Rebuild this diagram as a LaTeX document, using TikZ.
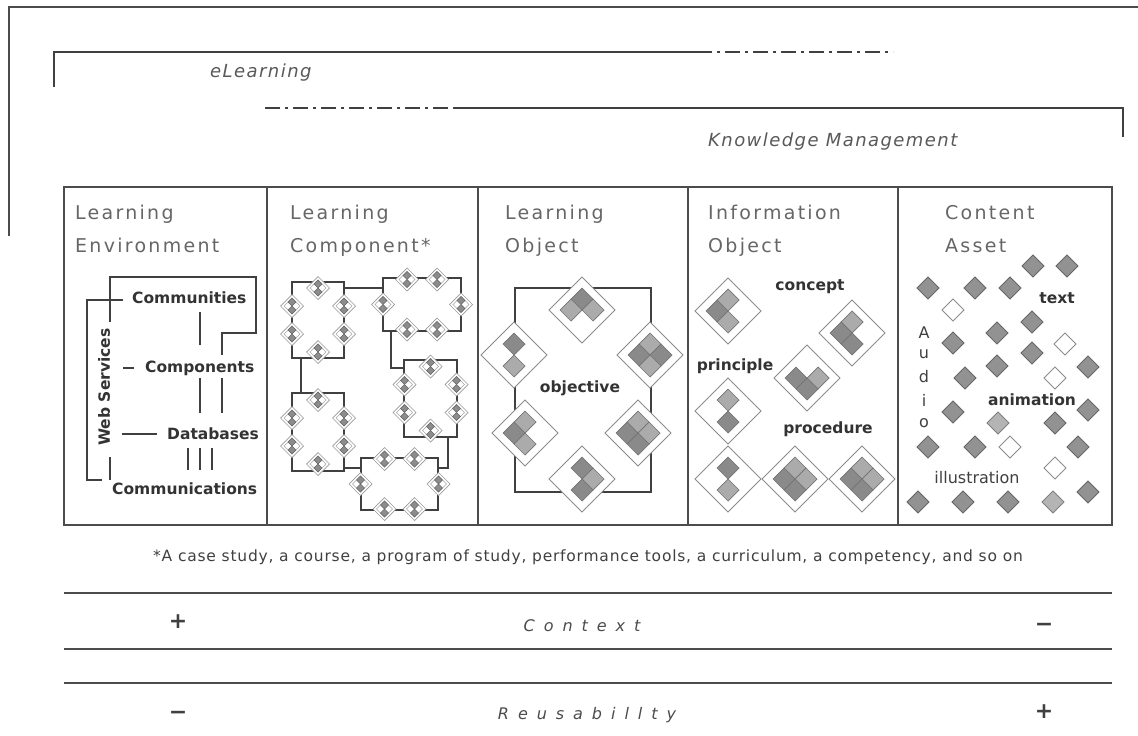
\documentclass[tikz,border=0pt]{standalone}
\usepackage{fontspec}
\setmainfont{DejaVu Sans}
\newfontfamily\titlefont[LetterSpace=12]{DejaVu Sans}
\newfontfamily\slfont[LetterSpace=8]{DejaVu Sans}
\newfontfamily\widefont[LetterSpace=56]{DejaVu Sans}
\newfontfamily\footfont[LetterSpace=5]{DejaVu Sans}
\definecolor{tA}{HTML}{8A8A8A}
\definecolor{tB}{HTML}{ABABAB}
\definecolor{caG}{HTML}{929292}
\definecolor{caL}{HTML}{B4B4B4}
\newcommand{\dmd}[4][]{\path[#1] ({#2-(#4)},{#3}) -- ({#2},{#3-(#4)}) -- ({#2+(#4)},{#3}) -- ({#2},{#3+(#4)}) -- cycle;}
\newcommand{\locluster}[3]{%
  \dmd[outerd]{#1}{#2}{33}%
  \foreach \dx/\dy/\tc in {#3}{\dmd[tile,fill=\tc]{#1+\dx}{#2+\dy}{11}}%
}
\newcommand{\lcmini}[2]{%
  \dmd[minio]{#1}{#2}{11.5}%
  \dmd[minii]{#1}{#2}{8}%
  \dmd[mtile]{#1}{#2-4}{4}%
  \dmd[mtile]{#1}{#2+4}{4}%
}
\newcommand{\lctall}[2]{%
  \lcmini{#1}{#2-32}\lcmini{#1-26}{#2-14}\lcmini{#1-26}{#2+14}%
  \lcmini{#1+26}{#2-14}\lcmini{#1+26}{#2+14}\lcmini{#1}{#2+32}%
}
\newcommand{\lcwide}[2]{%
  \lcmini{#1-15}{#2-25}\lcmini{#1+15}{#2-25}\lcmini{#1-39}{#2}%
  \lcmini{#1+39}{#2}\lcmini{#1-15}{#2+25}\lcmini{#1+15}{#2+25}%
}
\tikzset{
  frame/.style={draw=black!70, line width=1.4pt},
  ln/.style={draw=black!75, line width=1.2pt},
  dashdot/.style={draw=black!75, line width=1.2pt, dash pattern=on 15pt off 5pt on 3pt off 5pt},
  title/.style={font=\titlefont\fontsize{19}{23}\selectfont, text=black!60, anchor=base west, inner sep=0pt},
  brk/.style={font=\slfont\itshape\fontsize{18}{22}\selectfont, text=black!65, anchor=west, inner sep=0pt},
  lbl/.style={font=\bfseries\fontsize{15.5}{18}\selectfont, text=black!80, inner sep=0pt},
  reg/.style={font=\fontsize{16}{18}\selectfont, text=black!75, inner sep=0pt},
  sign/.style={font=\bfseries\fontsize{22}{24}\selectfont, text=black!75, inner sep=0pt},
  axis/.style={font=\widefont\itshape\fontsize{16}{18}\selectfont, text=black!70, inner sep=0pt},
  lcbox/.style={draw=black!75, line width=1.2pt, fill=white, inner sep=0pt},
  outerd/.style={draw=black!45, fill=white, line width=0.9pt},
  tile/.style={draw=black!55, line width=0.7pt},
  minio/.style={draw=black!40, fill=white, line width=0.7pt},
  minii/.style={draw=black!35, line width=0.6pt},
  mtile/.style={draw=black!60, fill=black!45, line width=0.5pt},
  ca/.style={draw=black!60, fill=caG, line width=0.8pt},
  cal/.style={draw=black!50, fill=caL, line width=0.8pt},
  caw/.style={draw=black!45, fill=white, line width=0.8pt},
}
\begin{document}
\begin{tikzpicture}[x=1pt,y=-1pt]
\useasboundingbox (0,0) rectangle (1138,736);
\fill[white] (0,0) rectangle (1138,736);

% outer frame and brackets
\draw[frame] (9,236) -- (9,7) -- (1138,7);
\draw[ln] (54,87) -- (54,52) -- (697,52);
\draw[dashdot] (697,52) -- (893,52);
\node[brk] (el) at (210,73) {eLearning};
\draw[dashdot] (265,108) -- (454,108);
\draw[ln] (454,108) -- (1123,108) -- (1123,137);
\node[brk] (km) at (708,142) {Knowledge Management};

% main box
\draw[frame] (64,187) rectangle (1112,525);
\foreach \xx in {267,478,688,898} \draw[frame] (\xx,187) -- (\xx,525);

% titles
\node[title] (t1a) at (75,219) {Learning};
\node[title] (t1b) at (75,252) {Environment};
\node[title] (t2a) at (290,219) {Learning};
\node[title] (t2b) at (290,252) {Component*};
\node[title] (t3a) at (505,219) {Learning};
\node[title] (t3b) at (505,252) {Object};
\node[title] (t4a) at (708,219) {Information};
\node[title] (t4b) at (708,252) {Object};
\node[title] (t5a) at (945,219) {Content};
\node[title] (t5b) at (945,252) {Asset};

% ---------- Learning Environment ----------
\node[lbl, anchor=west] (comm) at (132,298) {Communities};
\node[lbl, anchor=west] (comp) at (145,368) {Components};
\node[lbl, anchor=west] (db) at (167,434) {Databases};
\node[lbl, anchor=west] (cmn) at (112,489) {Communications};
\node[lbl, rotate=90] (ws) at (104,387) {Web Services};
\draw[ln] (110,322) -- (110,277) -- (256,277) -- (256,333) -- (222,333) -- (222,355);
\draw[ln] (222,378) -- (222,413);
\draw[ln] (comm.west) ++(-9,2) -- (87,300) -- (87,480) -- (102,480);
\draw[ln] (110,457) -- (110,480);
\draw[ln] (123,368) -- (134,368);
\draw[ln] (122,434) -- (157,434);
\draw[ln] (200,312) -- (200,345);
\draw[ln] (200,378) -- (200,413);
\foreach \xx in {188,200,212} \draw[ln] (\xx,448) -- (\xx,470);

% ---------- Learning Component ----------
\node[lcbox, minimum width=52pt, minimum height=76pt] (A) at (318,320) {};
\node[lcbox, minimum width=78pt, minimum height=53pt] (B) at (422,304.5) {};
\node[lcbox, minimum width=52pt, minimum height=78pt] (C) at (318,432) {};
\node[lcbox, minimum width=53pt, minimum height=77pt] (D) at (430.5,398.5) {};
\node[lcbox, minimum width=77pt, minimum height=52pt] (E) at (399.5,484) {};
\draw[ln] (A.east |- 0,288) -- (B.west |- 0,288);
\draw[ln] (301,0 |- A.south) -- (301,0 |- C.north);
\draw[ln] (391,0 |- B.south) |- (D.west |- 0,368);
\draw[ln] (C.east |- 0,468) -- (E.west |- 0,468);
\draw[ln] (448,0 |- D.south) |- (E.east |- 0,468);
\lctall{318}{320}
\lctall{318}{432}
\lctall{430.5}{398.5}
\lcwide{422}{304.5}
\lcwide{399.5}{484}

% ---------- Learning Object ----------
\node[lcbox, minimum width=136pt, minimum height=204pt] (LO) at (583,390) {};
\locluster{582}{310}{0/-11/tA,-11/0/tB,11/0/tB}
\locluster{514}{355}{0/-11/tA,0/11/tB}
\locluster{650}{355}{0/-11/tB,-11/0/tA,11/0/tA,0/11/tB}
\locluster{525}{433}{0/-11/tB,-11/0/tA,0/11/tB}
\locluster{638}{433}{0/-11/tB,-11/0/tA,11/0/tB,0/11/tA}
\locluster{582}{479}{0/-11/tA,11/0/tB,0/11/tA}
\node[lbl] (obj) at (580,388) {objective};

% ---------- Information Object ----------
\locluster{728}{311}{0/-11/tB,-11/0/tA,0/11/tB}
\locluster{852}{333}{0/-11/tB,-11/0/tA,0/11/tA}
\locluster{807}{378}{-11/0/tA,11/0/tB,0/11/tA}
\locluster{728}{411}{0/-11/tB,0/11/tA}
\locluster{728}{479}{0/-11/tA,0/11/tB}
\locluster{795}{479}{0/-11/tB,-11/0/tA,11/0/tB,0/11/tA}
\locluster{862}{479}{0/-11/tB,-11/0/tA,11/0/tB,0/11/tA}
\node[lbl] (concept) at (810,287) {concept};
\node[lbl] (principle) at (735,366) {principle};
\node[lbl] (procedure) at (828,429) {procedure};

% ---------- Content Asset ----------
\foreach \xx/\yy/\ss in {1033/266/ca,1067/266/ca,928/288/ca,975/288/ca,1010/288/ca,
  953/310/caw,1032/322/ca,997/333/ca,953/343/ca,1065/344/caw,1032/353/ca,
  997/366/ca,1088/367/ca,965/378/ca,1055/378/caw,953/412/ca,1088/410/ca,
  998/423/cal,1055/423/ca,928/447/ca,975/447/ca,1010/447/caw,1078/447/ca,
  1055/468/caw,1088/492/ca,918/502/ca,963/502/ca,1008/502/ca,1053/502/cal}
  {\dmd[\ss]{\xx}{\yy}{11}}
\node[lbl] (txt) at (1057,298) {text};
\node[lbl] (anim) at (1032,400) {animation};
\node[reg] (ill) at (977,478) {illustration};
\node[reg] (au1) at (924,333) {A};
\node[reg] (au2) at (924,354) {u};
\node[reg] (au3) at (924,377) {d};
\node[reg] (au4) at (924,400) {i};
\node[reg] (au5) at (924,423) {o};

% ---------- bottom ----------
\node[font=\footfont\fontsize{15.5}{18}\selectfont, text=black!75, inner sep=0pt] (foot) at (588,557)
  {*A case study, a course, a program of study, performance tools, a curriculum, a competency, and so on};
\draw[frame] (64,593) -- (1112,593);
\draw[frame] (64,649) -- (1112,649);
\draw[frame] (64,683) -- (1112,683);
\node[sign] (p1) at (178,622) {+};
\node[axis] (ctx) at (582,626) {Context};
\node[sign] (m1) at (1044,627) {−};
\node[sign] (m2) at (178,715) {−};
\node[axis] (reu) at (587,715) {Reusabillty};
\node[sign] (p2) at (1044,712) {+};
\end{tikzpicture}
\end{document}
